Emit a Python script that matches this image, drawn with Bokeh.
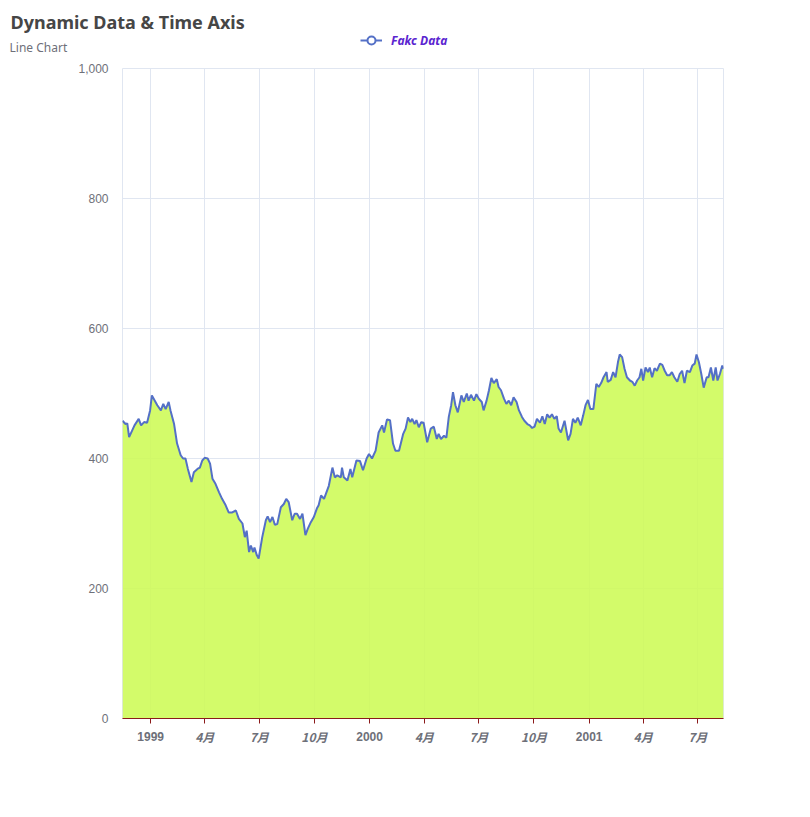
from bokeh.plotting import figure
from bokeh.layouts import column
from bokeh.models import (Range1d, FixedTicker, Label, Legend, LegendItem,
                          ColumnDataSource, NumeralTickFormatter)
from bokeh.core.properties import value
from bokeh.embed import file_html
from bokeh.resources import INLINE
import pandas as pd

# ---------------- data ----------------
dates = [
    "1998-11-15", "1998-11-20", "1998-11-23", "1998-11-26", "1998-12-01", "1998-12-05",
    "1998-12-12", "1998-12-16", "1998-12-21", "1998-12-26", "1998-12-31",
    "1999-01-03", "1999-01-09", "1999-01-12", "1999-01-18", "1999-01-22", "1999-01-26",
    "1999-01-31", "1999-02-03", "1999-02-09", "1999-02-14", "1999-02-20", "1999-02-24",
    "1999-02-28", "1999-03-04", "1999-03-10", "1999-03-14", "1999-03-20", "1999-03-24",
    "1999-03-28", "1999-04-01", "1999-04-06", "1999-04-10", "1999-04-14", "1999-04-19",
    "1999-04-25", "1999-04-30", "1999-05-06", "1999-05-11", "1999-05-17", "1999-05-23",
    "1999-05-28", "1999-06-03", "1999-06-07", "1999-06-10", "1999-06-14", "1999-06-17",
    "1999-06-21", "1999-06-23", "1999-06-27", "1999-06-30", "1999-07-06", "1999-07-12",
    "1999-07-15", "1999-07-19", "1999-07-23", "1999-07-27", "1999-07-31", "1999-08-06",
    "1999-08-11", "1999-08-15", "1999-08-19", "1999-08-25", "1999-08-29", "1999-09-02",
    "1999-09-07", "1999-09-11", "1999-09-16", "1999-09-20", "1999-09-25", "1999-09-30",
    "1999-10-05", "1999-10-08", "1999-10-12", "1999-10-17", "1999-10-21", "1999-10-25",
    "1999-10-31", "1999-11-04", "1999-11-08", "1999-11-14", "1999-11-16", "1999-11-19",
    "1999-11-25", "1999-11-30", "1999-12-03", "1999-12-10", "1999-12-16", "1999-12-21",
    "1999-12-27", "1999-12-31",
    "2000-01-05", "2000-01-11", "2000-01-16", "2000-01-22", "2000-01-25", "2000-01-30",
    "2000-02-04", "2000-02-09", "2000-02-13", "2000-02-19", "2000-02-22", "2000-02-26",
    "2000-03-01", "2000-03-05", "2000-03-09", "2000-03-12", "2000-03-16", "2000-03-19",
    "2000-03-23", "2000-03-27", "2000-03-31", "2000-04-06", "2000-04-12", "2000-04-17",
    "2000-04-22", "2000-04-25", "2000-04-29", "2000-05-04", "2000-05-08", "2000-05-12",
    "2000-05-16", "2000-05-19", "2000-05-23", "2000-05-27", "2000-06-02", "2000-06-06",
    "2000-06-11", "2000-06-14", "2000-06-18", "2000-06-23", "2000-06-27", "2000-07-01",
    "2000-07-06", "2000-07-09", "2000-07-14", "2000-07-18", "2000-07-22", "2000-07-26",
    "2000-07-31", "2000-08-03", "2000-08-07", "2000-08-12", "2000-08-16", "2000-08-20",
    "2000-08-24", "2000-08-28", "2000-09-02", "2000-09-06", "2000-09-11", "2000-09-15",
    "2000-09-20", "2000-09-24", "2000-09-28", "2000-10-02", "2000-10-06", "2000-10-11",
    "2000-10-15", "2000-10-19", "2000-10-23", "2000-10-27", "2000-10-31", "2000-11-04",
    "2000-11-08", "2000-11-11", "2000-11-15", "2000-11-21", "2000-11-27", "2000-12-01",
    "2000-12-05", "2000-12-09", "2000-12-13", "2000-12-18", "2000-12-22", "2000-12-26",
    "2000-12-30",
    "2001-01-03", "2001-01-08", "2001-01-13", "2001-01-17", "2001-01-21", "2001-01-25",
    "2001-01-30", "2001-02-01", "2001-02-06", "2001-02-10", "2001-02-14", "2001-02-18",
    "2001-02-21", "2001-02-25", "2001-03-01", "2001-03-05", "2001-03-10", "2001-03-14",
    "2001-03-18", "2001-03-22", "2001-03-26", "2001-03-29", "2001-04-01", "2001-04-05",
    "2001-04-09", "2001-04-12", "2001-04-16", "2001-04-20", "2001-04-24", "2001-04-29",
    "2001-05-03", "2001-05-07", "2001-05-11", "2001-05-15", "2001-05-19", "2001-05-23",
    "2001-05-28", "2001-06-01", "2001-06-05", "2001-06-09", "2001-06-13", "2001-06-18",
    "2001-06-22", "2001-06-26", "2001-06-29", "2001-07-03", "2001-07-07", "2001-07-11",
    "2001-07-16", "2001-07-19", "2001-07-23", "2001-07-27", "2001-07-31", "2001-08-03",
    "2001-08-07", "2001-08-11", "2001-08-13",
]

values = [
    458, 453, 454, 433, 443, 451,
    461, 451, 456, 455, 474,
    497, 487, 482, 474, 484, 476,
    487, 474, 453, 423, 405, 400,
    400, 384, 364, 379, 384, 386,
    397, 401, 400, 392, 369, 361,
    348, 338, 328, 317, 317, 320,
    307, 300, 279, 289, 256, 266,
    256, 263, 251, 246, 279, 305,
    311, 302, 310, 298, 299, 325,
    330, 338, 333, 305, 315, 315,
    307, 315, 282, 292, 302, 310,
    323, 328, 343, 338, 348, 358,
    386, 371, 374, 371, 386, 371,
    366, 384, 371, 397, 396, 382,
    400, 407,
    400, 412, 440, 451, 440, 460,
    459, 423, 412, 412, 423, 438,
    446, 463, 456, 461, 453, 459,
    448, 456, 455, 425, 446, 449,
    430, 438, 430, 435, 432, 464,
    482, 502, 482, 471, 497, 487,
    500, 489, 498, 489, 499, 492,
    487, 474, 489, 505, 524, 516,
    522, 510, 505, 492, 484, 489,
    482, 494, 487, 474, 464, 458,
    453, 451, 447, 449, 461, 455,
    465, 453, 468, 463, 468, 461,
    465, 446, 440, 458, 428, 438,
    461, 455, 463, 451, 466, 482,
    490,
    476, 476, 515, 510, 516, 525,
    533, 518, 521, 533, 525, 548,
    560, 556, 538, 525, 520, 518,
    512, 520, 525, 538, 520, 540,
    533, 540, 525, 539, 535, 546,
    544, 535, 528, 528, 533, 525,
    518, 530, 535, 516, 535, 533,
    543, 546, 560, 548, 530, 509,
    525, 525, 540, 520, 540, 520,
    530, 543, 538,
]

series_name = "Fakc Data"
title_text = "Dynamic Data & Time Axis"
subtitle_text = "Line Chart"

year_tick_dates = ["1999-01-01", "2000-01-01", "2001-01-01"]
year_tick_labels = ["1999", "2000", "2001"]
month_tick_dates = ["1999-04-01", "1999-07-01", "1999-10-01",
                    "2000-04-01", "2000-07-01", "2000-10-01",
                    "2001-04-01", "2001-07-01"]
month_tick_labels = ["4月", "7月", "10月", "4月", "7月", "10月", "4月", "7月"]
y_ticks = [0, 200, 400, 600, 800, 1000]

# ---------------- styles ----------------
GRID = "#E0E6F1"
LABEL = "#6E7079"
AXIS_RED = "#8B1A1A"
LINE_BLUE = "#5470C6"
W = 800
LEFT, RIGHT = 122, 77


def to_ms(d):
    return pd.Timestamp(d).value / 1e6


x = pd.to_datetime(dates)
src = ColumnDataSource(dict(x=x, y=values))
year_ms = [to_ms(d) for d in year_tick_dates]
month_ms = [to_ms(d) for d in month_tick_dates]
all_ticks = sorted(year_ms + month_ms)

# ---------------- header: title, subtitle, legend ----------------
HEAD_H = 60
head = figure(width=W, height=HEAD_H, output_backend="svg", toolbar_location=None,
              x_range=Range1d(0, W), y_range=Range1d(HEAD_H, 0),
              x_axis_location=None, y_axis_location=None,
              min_border=0, min_border_left=0, min_border_right=0,
              min_border_top=0, min_border_bottom=0)
head.frame_align = False
head.grid.visible = False
head.outline_line_color = None
head.background_fill_color = "white"
head.border_fill_color = "white"
head.add_layout(Label(x=10, y=21.5, text=title_text, text_baseline="middle",
                      text_color="#464646", text_font="Noto Sans",
                      text_font_size="18px", text_font_style="bold"))
head.add_layout(Label(x=9, y=46.5, text=subtitle_text, text_baseline="middle",
                      text_color=LABEL, text_font="Noto Sans", text_font_size="12px"))
# legend-only renderers (kept outside the header's visible ranges)
leg_src = ColumnDataSource(dict(x=[-100, -90], y=[-100, -100]))
leg_line = head.line("x", "y", source=leg_src, line_color=LINE_BLUE, line_width=2)
leg_dot = head.scatter("x", "y", source=leg_src, marker="circle", size=10,
                       fill_color="white", line_color=LINE_BLUE, line_width=2)
legend = Legend(items=[LegendItem(label=series_name, renderers=[leg_line, leg_dot])],
                location=(360, 10), orientation="horizontal",
                border_line_color=None, background_fill_alpha=0,
                padding=0, margin=0, spacing=0,
                glyph_width=22, glyph_height=20, label_standoff=9,
                label_text_font="Noto Sans", label_text_font_size="12px",
                label_text_font_style="bold italic", label_text_color="#5B25D0")
head.add_layout(legend, "center")

# ---------------- main chart ----------------
TOP, BOTTOM, FRAME_H = 8, 8, 650
p = figure(width=W, height=TOP + FRAME_H + BOTTOM, x_axis_type="datetime",
           output_backend="svg", toolbar_location=None,
           x_range=Range1d(x.min(), x.max()), y_range=Range1d(0, 1000),
           min_border_left=LEFT, min_border_right=RIGHT,
           min_border_top=TOP, min_border_bottom=BOTTOM)
p.background_fill_color = "white"
p.border_fill_color = "white"
p.outline_line_color = GRID

p.varea(x="x", y1=0, y2="y", source=src, fill_color="#CDFB55", fill_alpha=0.88)
p.line("x", "y", source=src, line_color=LINE_BLUE, line_width=2)

p.xgrid.ticker = FixedTicker(ticks=all_ticks)
p.xgrid.grid_line_color = GRID
p.ygrid.ticker = FixedTicker(ticks=y_ticks)
p.ygrid.grid_line_color = GRID

xa = p.xaxis[0]
xa.ticker = FixedTicker(ticks=all_ticks)
xa.major_label_overrides = {t: "" for t in all_ticks}
xa.major_label_text_font_size = "0px"
xa.major_label_standoff = 0
xa.axis_line_color = AXIS_RED
xa.major_tick_line_color = AXIS_RED
xa.major_tick_out = 5
xa.major_tick_in = 0
xa.minor_tick_line_color = None

ya = p.yaxis[0]
ya.ticker = FixedTicker(ticks=y_ticks)
ya.formatter = NumeralTickFormatter(format="0,0")
ya.axis_line_color = None
ya.major_tick_line_color = None
ya.minor_tick_line_color = None
ya.major_label_text_color = LABEL
ya.major_label_text_font = "Liberation Sans"
ya.major_label_text_font_size = "12px"
ya.major_label_standoff = 8

# ---------------- footer: time-axis tick labels ----------------
FOOT_H = 74
foot = figure(width=W, height=FOOT_H, output_backend="svg", toolbar_location=None,
              x_range=p.x_range, y_range=Range1d(FOOT_H, 0),
              x_axis_location=None, y_axis_location=None,
              min_border_left=LEFT, min_border_right=RIGHT,
              min_border_top=0, min_border_bottom=0)
foot.grid.visible = False
foot.outline_line_color = None
foot.background_fill_color = "white"
foot.border_fill_color = "white"
foot.text(x=pd.to_datetime(year_tick_dates), y=10, text=year_tick_labels,
          text_align="center", text_baseline="alphabetic", text_color=LABEL,
          text_font=value("Liberation Sans"), text_font_size="12px",
          text_font_style="bold")
foot.text(x=pd.to_datetime(month_tick_dates), y=10, text=month_tick_labels,
          text_align="center", text_baseline="alphabetic", text_color=LABEL,
          text_font=value("Noto Sans CJK SC"), text_font_size="12px",
          text_font_style="bold italic")

layout = column(head, p, foot, spacing=0)
open("out.html", "w").write(file_html(layout, INLINE))
